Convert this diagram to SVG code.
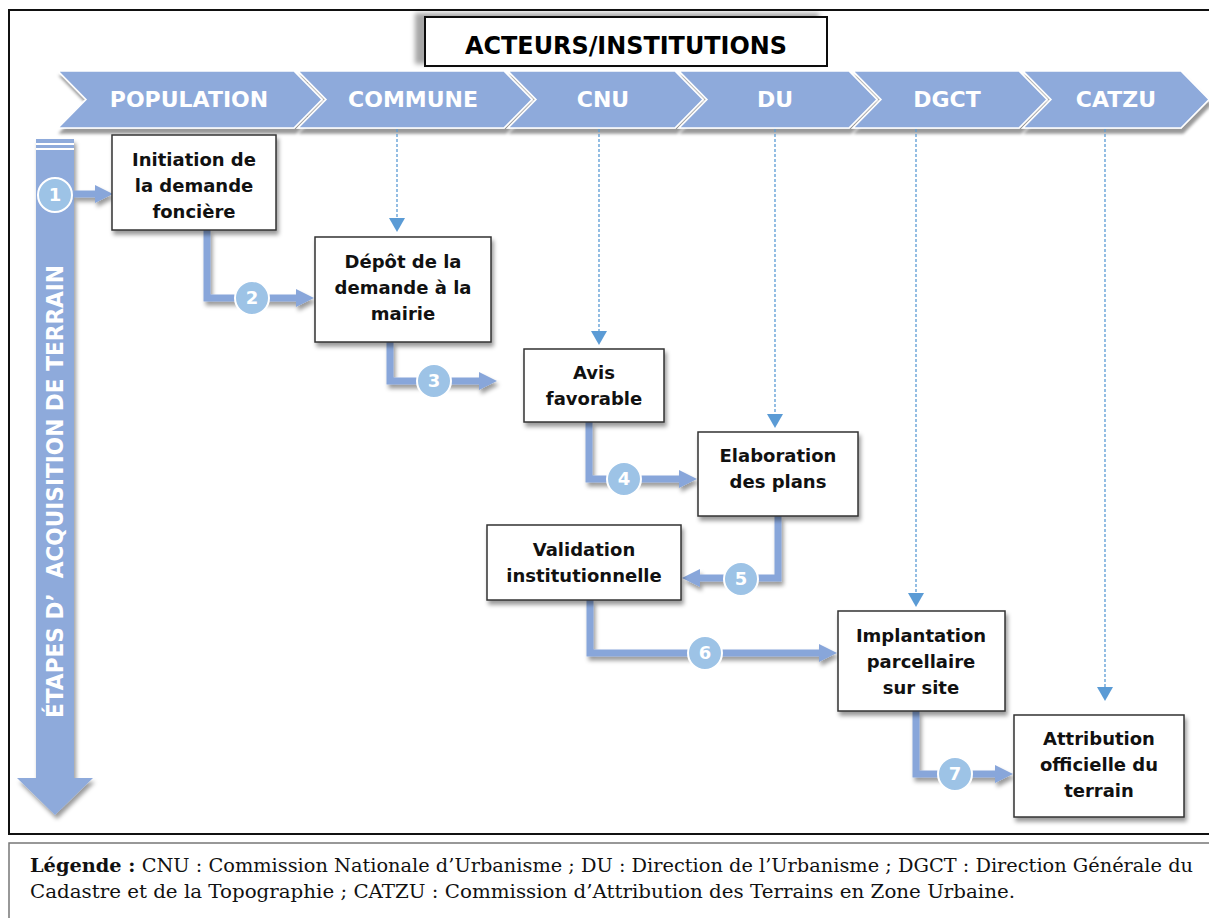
<svg xmlns="http://www.w3.org/2000/svg" width="1209" height="918" viewBox="0 0 1209 918">
<defs>
<style>
.box{fill:#fff;stroke:#333;stroke-width:1.5}
.bt{font-family:"DejaVu Sans",Verdana,sans-serif;font-weight:bold;font-size:18px;fill:#111;text-anchor:middle}
.hdr{font-family:"DejaVu Sans",Verdana,sans-serif;font-weight:bold;font-size:22px;fill:#fff;text-anchor:middle}
.chev{fill:#8EAADB;stroke:#fff;stroke-width:1.5}
.flow{fill:none;stroke:#88A6DA;stroke-width:7;stroke-linejoin:miter}
.num{fill:#9DC3E6;stroke:#fff;stroke-width:2}
.nt{font-family:"DejaVu Sans",Verdana,sans-serif;font-weight:bold;font-size:18px;fill:#fff;text-anchor:middle}
.dash{fill:none;stroke:#5B9BD5;stroke-width:1.3;stroke-dasharray:3 2}
.leg{font-family:"DejaVu Serif","Liberation Serif",serif;font-size:19px;fill:#111}
</style>
<filter id="sh" x="-20%" y="-20%" width="140%" height="150%">
<feDropShadow dx="2" dy="4" stdDeviation="2" flood-color="#000" flood-opacity="0.4"/>
</filter>
<filter id="shc" x="-10%" y="-20%" width="120%" height="160%">
<feDropShadow dx="2" dy="5" stdDeviation="1.5" flood-color="#000" flood-opacity="0.4"/>
</filter>
<filter id="sht" x="-10%" y="-30%" width="120%" height="160%">
<feDropShadow dx="-9" dy="-3" stdDeviation="2.5" flood-color="#000" flood-opacity="0.35"/>
</filter>
<marker id="fa" markerUnits="userSpaceOnUse" markerWidth="18" markerHeight="18" refX="0" refY="9" orient="auto">
<path d="M0,0 L18,9 L0,18 z" fill="#88A6DA"/>
</marker>
<marker id="da" markerUnits="userSpaceOnUse" markerWidth="14" markerHeight="16" refX="0" refY="8" orient="auto">
<path d="M0,0 L14,8 L0,16 z" fill="#5B9BD5"/>
</marker>
</defs>
<rect width="1209" height="918" fill="#fff"/>

<!-- outer frame -->
<rect x="9" y="10" width="1215" height="824" fill="none" stroke="#111" stroke-width="2"/>

<!-- title -->
<g id="title">
<rect x="425" y="17" width="402" height="49" class="box" filter="url(#sht)" style="stroke:#111;stroke-width:2"/>
<text x="626" y="54" font-family="DejaVu Sans,Verdana,sans-serif" font-weight="bold" font-size="24" fill="#000" text-anchor="middle" textLength="322" lengthAdjust="spacingAndGlyphs">ACTEURS/INSTITUTIONS</text>
</g>

<!-- actor chevrons -->
<g id="actors" filter="url(#shc)">
<polygon class="chev" points="58,71 294,71 322,99.5 294,128 58,128 86,99.5"/>
<polygon class="chev" points="298,71 504,71 532,99.5 504,128 298,128 326,99.5"/>
<polygon class="chev" points="508,71 675,71 703,99.5 675,128 508,128 536,99.5"/>
<polygon class="chev" points="679,71 849,71 877,99.5 849,128 679,128 707,99.5"/>
<polygon class="chev" points="853,71 1019,71 1047,99.5 1019,128 853,128 881,99.5"/>
<polygon class="chev" points="1023,71 1181,71 1209,99.5 1181,128 1023,128 1051,99.5"/>
</g>
<g id="actor-labels">
<text class="hdr" x="189" y="107">POPULATION</text>
<text class="hdr" x="413" y="107">COMMUNE</text>
<text class="hdr" x="603" y="107">CNU</text>
<text class="hdr" x="775" y="107">DU</text>
<text class="hdr" x="947" y="107">DGCT</text>
<text class="hdr" x="1116" y="107">CATZU</text>
</g>

<!-- vertical steps arrow -->
<g id="steps-axis">
<polygon points="36,139 74,139 74,778 93,778 55,815 17,778 36,778" fill="#8EAADB" filter="url(#sh)"/>
<rect x="36" y="143" width="38" height="2" fill="#fff"/>
<rect x="36" y="148" width="38" height="2" fill="#fff"/>
<text transform="translate(63,718) rotate(-90)" font-family="DejaVu Sans,Verdana,sans-serif" font-weight="bold" font-size="23" fill="#fff" textLength="453" lengthAdjust="spacingAndGlyphs" style="white-space:pre">ÉTAPES D’  ACQUISITION DE TERRAIN</text>
</g>

<!-- dashed actor links -->
<g id="actor-links">
<line class="dash" x1="397" y1="129" x2="397" y2="218" marker-end="url(#da)"/>
<line class="dash" x1="599" y1="129" x2="599" y2="331" marker-end="url(#da)"/>
<line class="dash" x1="775" y1="129" x2="775" y2="414" marker-end="url(#da)"/>
<line class="dash" x1="916" y1="129" x2="916" y2="593" marker-end="url(#da)"/>
<line class="dash" x1="1105" y1="129" x2="1105" y2="687" marker-end="url(#da)"/>
</g>

<!-- flow connectors -->
<g id="connectors" filter="url(#sh)">
<polyline class="flow" points="74,194 95,194" marker-end="url(#fa)"/>
<polyline class="flow" points="207,230 207,298 296,298" marker-end="url(#fa)"/>
<polyline class="flow" points="390,342 390,381 479,381" marker-end="url(#fa)"/>
<polyline class="flow" points="589,422 589,479 679,479" marker-end="url(#fa)"/>
<polyline class="flow" points="778,516 778,578 700,578" marker-end="url(#fa)"/>
<polyline class="flow" points="590,600 590,653 819,653" marker-end="url(#fa)"/>
<polyline class="flow" points="916,711 916,774 995,774" marker-end="url(#fa)"/>
</g>

<!-- step numbers -->
<g id="numbers">
<circle class="num" cx="55" cy="195" r="17"/><text class="nt" x="55" y="201">1</text>
<circle class="num" cx="252" cy="298" r="17"/><text class="nt" x="252" y="304">2</text>
<circle class="num" cx="434" cy="381" r="17"/><text class="nt" x="434" y="387">3</text>
<circle class="num" cx="624" cy="479" r="17"/><text class="nt" x="624" y="485">4</text>
<circle class="num" cx="741" cy="579" r="17"/><text class="nt" x="741" y="585">5</text>
<circle class="num" cx="705" cy="653" r="17"/><text class="nt" x="705" y="659">6</text>
<circle class="num" cx="955" cy="774" r="17"/><text class="nt" x="955" y="780">7</text>
</g>

<!-- nodes -->
<g id="n1">
<rect class="box" x="112" y="135" width="164" height="95" filter="url(#sh)"/>
<text class="bt" x="194" y="166">Initiation de</text>
<text class="bt" x="194" y="192">la demande</text>
<text class="bt" x="194" y="218">foncière</text>
</g>
<g id="n2">
<rect class="box" x="315" y="237" width="176" height="105" filter="url(#sh)"/>
<text class="bt" x="403" y="268">Dépôt de la</text>
<text class="bt" x="403" y="294">demande à la</text>
<text class="bt" x="403" y="320">mairie</text>
</g>
<g id="n3">
<rect class="box" x="524" y="349" width="140" height="73" filter="url(#sh)"/>
<text class="bt" x="594" y="379">Avis</text>
<text class="bt" x="594" y="405">favorable</text>
</g>
<g id="n4">
<rect class="box" x="698" y="432" width="160" height="84" filter="url(#sh)"/>
<text class="bt" x="778" y="462">Elaboration</text>
<text class="bt" x="778" y="488">des plans</text>
</g>
<g id="n5">
<rect class="box" x="487" y="525" width="194" height="75" filter="url(#sh)"/>
<text class="bt" x="584" y="556">Validation</text>
<text class="bt" x="584" y="582">institutionnelle</text>
</g>
<g id="n6">
<rect class="box" x="838" y="611" width="167" height="100" filter="url(#sh)"/>
<text class="bt" x="921" y="642">Implantation</text>
<text class="bt" x="921" y="668">parcellaire</text>
<text class="bt" x="921" y="694">sur site</text>
</g>
<g id="n7">
<rect class="box" x="1014" y="715" width="170" height="102" filter="url(#sh)"/>
<text class="bt" x="1099" y="745">Attribution</text>
<text class="bt" x="1099" y="771">officielle du</text>
<text class="bt" x="1099" y="797">terrain</text>
</g>

<!-- legend -->
<g id="legend">
<rect x="9" y="843" width="1215" height="90" fill="#fff" stroke="#777" stroke-width="1.5"/>
<text class="leg" x="30" y="872" textLength="1163" lengthAdjust="spacingAndGlyphs"><tspan font-weight="bold">Légende :</tspan> CNU : Commission Nationale d’Urbanisme ; DU : Direction de l’Urbanisme ; DGCT : Direction Générale du</text>
<text class="leg" x="30" y="898" textLength="985" lengthAdjust="spacingAndGlyphs">Cadastre et de la Topographie ; CATZU : Commission d’Attribution des Terrains en Zone Urbaine.</text>
</g>
</svg>
